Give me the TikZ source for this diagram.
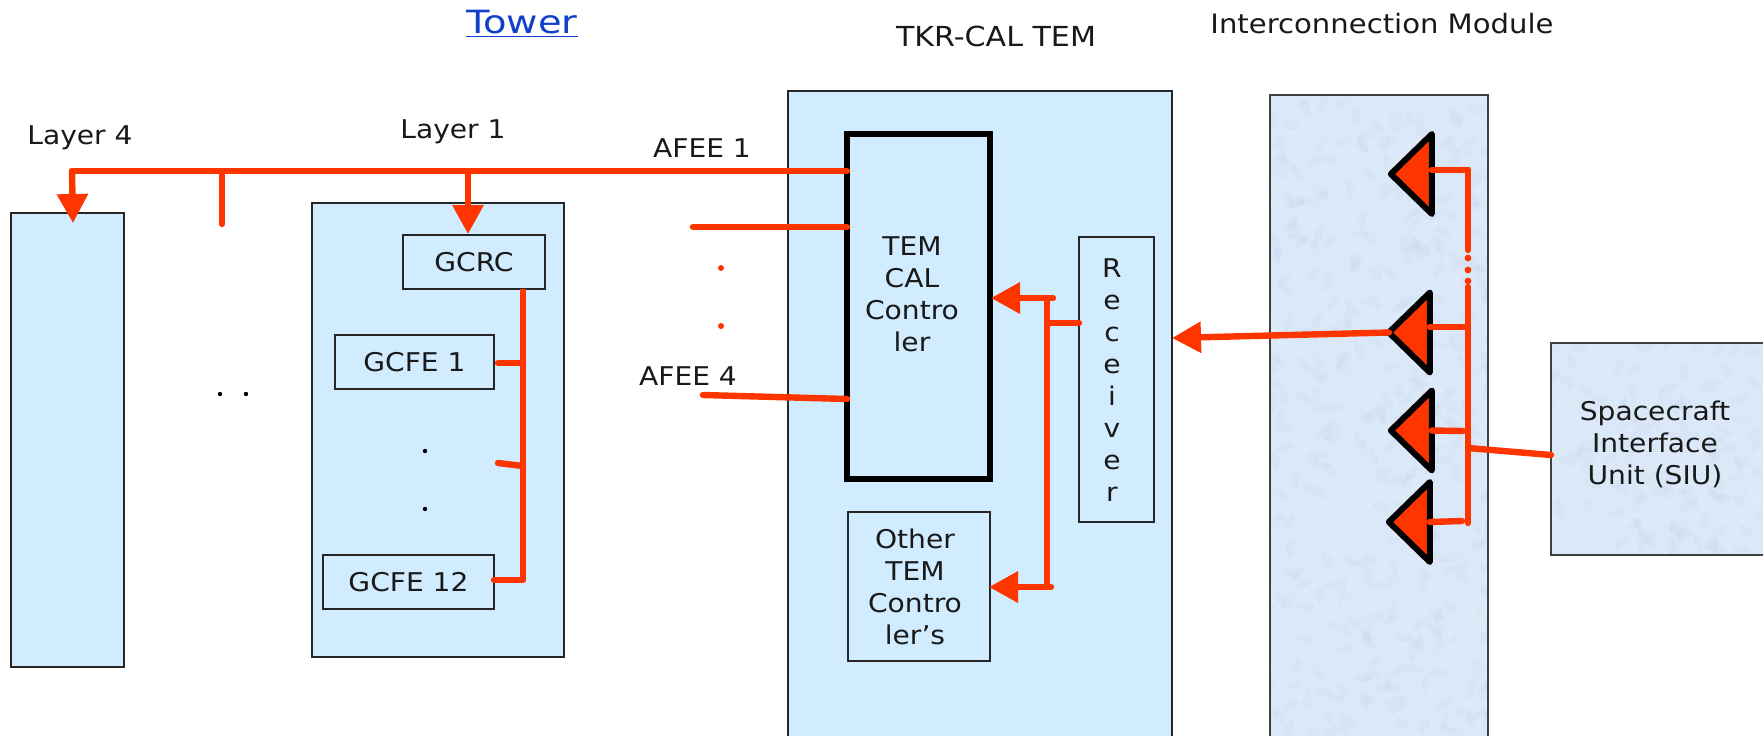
\documentclass[tikz,border=0pt]{standalone}
\usepackage{fontspec}
\setmainfont{DejaVu Sans}[FakeStretch=1.09]
\newfontfamily\towerfont{DejaVu Sans}[FakeStretch=1.2]
\usetikzlibrary{arrows.meta,shapes.geometric}
\definecolor{fillblue}{HTML}{D1ECFE}
\definecolor{texblue}{HTML}{DAE8F8}
\definecolor{wire}{HTML}{FF3500}
\definecolor{linkblue}{HTML}{1040C8}
\tikzset{
  x=0.5pt,y=-0.5pt,
  txt/.style={font=\fontsize{12.9}{16}\selectfont,align=center,inner sep=0,text=black!90},
  bx/.style={draw=black!85,line width=1pt,fill=fillblue,inner sep=0,outer sep=0,minimum width=#1*0.5pt},
  bx/.default=10,
  tex/.style={draw=black!75,line width=1pt,fill=texblue,inner sep=0,outer sep=0},
  wr/.style={draw=wire,line width=3.2pt,line cap=round},
  arr/.style={wr,-{Triangle[length=14.5pt,width=15pt]}},
  tri/.style={isosceles triangle,isosceles triangle stretches,shape border rotate=180,draw=black,fill=wire,line width=3pt,line join=round,inner sep=0,outer sep=0,minimum height=41*0.5pt,minimum width=80*0.5pt},
  dotb/.style={circle,fill=black,inner sep=0,minimum size=2.2pt},
  dotr/.style={circle,fill=wire,inner sep=0,minimum size=3pt},
}
\begin{document}
\begin{tikzpicture}
\useasboundingbox (0,0) rectangle (1763,735);
\clip (0,0) rectangle (1763,735);

% containers
\node[bx=113,minimum height=454*0.5pt] (layer4) at (67.5,440) {};
\node[bx=252,minimum height=454*0.5pt] (layer1) at (437.5,430) {};
\node[bx=384,minimum height=700*0.5pt] (tem) at (980,441) {};
\node[tex,minimum width=218*0.5pt,minimum height=700*0.5pt] (ic) at (1379,445) {};
\node[tex,minimum width=240*0.5pt,minimum height=212*0.5pt] (siu) at (1671,449) {};

% texture of the textured panels
\begin{scope}
\pgfmathsetseed{4711}
\clip (1270,96) rectangle (1487,735) (1552,344) rectangle (1763,554);
\foreach \i in {1,...,1500}{
  \pgfmathsetmacro{\xa}{1270+rnd*493}
  \pgfmathsetmacro{\ya}{96+rnd*639}
  \pgfmathsetmacro{\op}{rnd>0.5?1:0}
  \pgfmathsetmacro{\rt}{rnd*180}
  \ifdim\op pt>0.5pt
    \fill[white,opacity=.07,rotate around={\rt:(\xa,\ya)}] (\xa,\ya) ellipse (11 and 3);
  \else
    \fill[blue!30!gray,opacity=.025,rotate around={\rt:(\xa,\ya)}] (\xa,\ya) ellipse (9 and 4);
  \fi
}
\end{scope}
\node[tex,fill=none,minimum width=218*0.5pt,minimum height=700*0.5pt] at (ic) {};
\node[tex,fill=none,minimum width=240*0.5pt,minimum height=212*0.5pt] at (siu) {};

% inner boxes
\node[bx=142,minimum height=54*0.5pt,txt] (gcrc) at (474,262) {GCRC};
\node[bx=159,minimum height=54*0.5pt,txt] (gcfe1) at (414.5,362) {GCFE 1};
\node[bx=171,minimum height=54*0.5pt,txt] (gcfe12) at (408.5,582) {GCFE 12};
\node[bx=143,minimum height=345*0.5pt,line width=3pt,draw=black] (ctrl) at (918.5,306.5) {};
\node[bx=142,minimum height=149*0.5pt] (other) at (919,586.5) {};
\node[bx=75,minimum height=285*0.5pt] (recv) at (1116.5,379.5) {};

% texts
\node[txt,font=\fontsize{16}{18}\towerfont,text=linkblue] (towerlabel) at (522,24) {\underline{Tower}};
\node[txt,font=\fontsize{13.8}{16}\selectfont] (temlabel) at (996,36) {TKR-CAL TEM};
\node[txt,font=\fontsize{13.35}{16}\selectfont] (iclabel) at (1382,24) {Interconnection Module};
\node[txt] (l4label) at (80,138) {Layer 4};
\node[txt] (l1label) at (453,132) {Layer 1};
\node[txt] (af1) at (702,148) {AFEE 1};
\node[txt] (af4) at (688,376) {AFEE 4};
\node[txt] (ctrltext) at (912,294) {TEM\\CAL\\Contro\\ler};
\node[txt] (othertext) at (915,587) {Other\\TEM\\Contro\\ler's};
\node[txt] (recvtext) at (1112,380) {R\\e\\c\\e\\i\\v\\e\\r};
\node[txt] (siutext) at (1655,444) {Spacecraft\\Interface\\Unit (SIU)};

% dots
\node[dotb] (d1) at (220,394) {};
\node[dotb] (d2) at (246,394) {};
\node[dotb] (d3) at (425,451) {};
\node[dotb] (d4) at (425,509) {};
\node[dotr] (d5) at (721,268) {};
\node[dotr] (d6) at (721,326) {};

% named free ends
\coordinate (busL) at (72,171);
\coordinate (busM) at (222,171);
\coordinate (busR) at (468,171);
\coordinate (busE) at (847,171);
\coordinate (tipL) at (73,223);
\coordinate (midE) at (222,224);
\coordinate (tipR) at (468,234);
\coordinate (a2s) at (693,227);
\coordinate (a2e) at (847,227);
\coordinate (a4s) at (703,395);
\coordinate (a4e) at (847,399);

% tower bus
\draw[wr,line join=round] (busE) -- (busL) -- (72,190);
\draw[arr] (busL) -- (tipL);
\draw[wr] (busM) -- (midE);
\draw[arr] (busR) -- (tipR);
\draw[wr] (a2s) -- (a2e);
\draw[wr] (a4s) -- (a4e);

% layer 1 internal
\coordinate (v1t) at (523,289);
\coordinate (v1b) at (523,581);
\draw[wr,line cap=butt] (v1t) -- (v1b);
\draw[wr] (498,363) -- (523,363);
\draw[wr] (498,463) -- (523,466);
\draw[wr] (494,580) -- (523,580);

% TEM internal
\coordinate (tv) at (1047,298);
\coordinate (bv) at (1047,587);
\draw[wr] (tv) -- (bv);
\draw[wr] (1047,323) -- (recv.west |- 0,323);
\draw[arr] (1053,298) -- (991,298);
\draw[arr] (1051,587) -- (989,587);

% triangles
\node[tri] (t1) at (1415,174) {};
\node[tri] (t2) at (1413,332.5) {};
\node[tri] (t3) at (1415,430.5) {};
\node[tri] (t4) at (1413,522) {};

% interconnect
\draw[arr] (t2.apex) -- (1172,338);
\coordinate (vt) at (1468,170);
\coordinate (vd) at (1468,250);
\coordinate (vc) at (1468,287);
\coordinate (vb) at (1468,523);
\draw[wr] (vt) -- (vd);
\draw[wr] (vc) -- (vb);
\fill[wire] (1468,258) circle (3.4) (1468,270) circle (3.4) (1468,281) circle (3.4);
\draw[wr] (t1.east |- vt) -- (vt);
\draw[wr] (t2.east |- 0,327) -- (1468,327);
\draw[wr] (t3.east) -- (1463,431);
\draw[wr] (t4.east) -- (1462,521);
\draw[wr] (1468,448) -- (siu.west |- 0,455);
\end{tikzpicture}
\end{document}
